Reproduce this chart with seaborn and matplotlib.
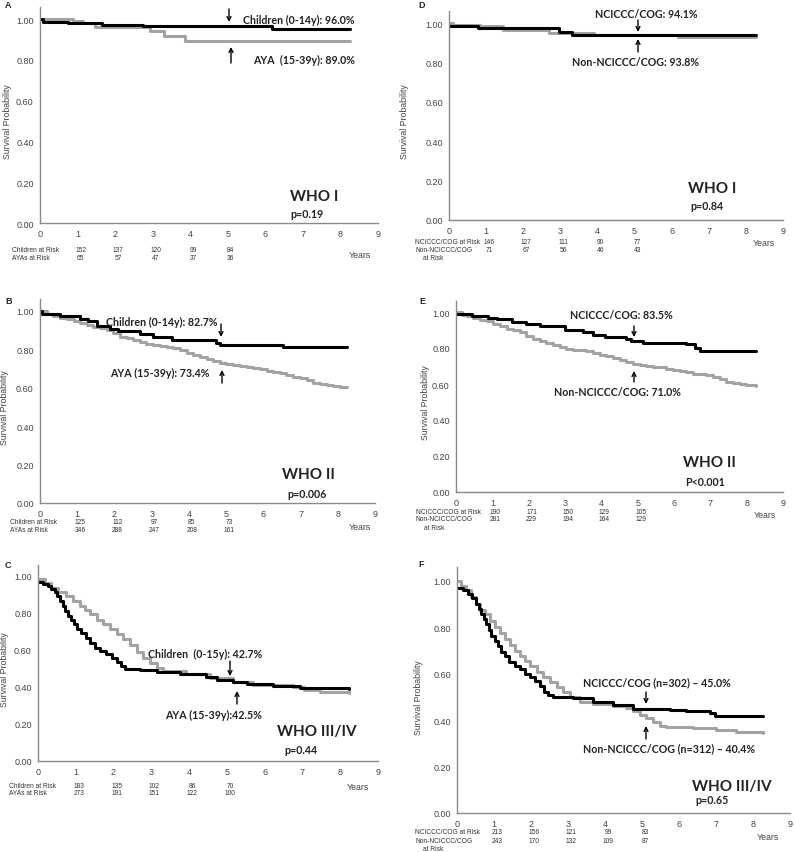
import numpy as np
import pandas as pd
import seaborn as sns
import matplotlib.pyplot as plt
import matplotlib.transforms as mtrans
from matplotlib.patches import FancyArrowPatch

W, H = 794, 853

## survival curves (years, survival probability)
# A: WHO I, children vs AYA
a_black_t = [0, 0.09, 0.75, 1.64, 2.75, 6.17, 8.26]
a_black_s = [1.0, 0.987, 0.979, 0.972, 0.964, 0.95, 0.95]
a_gray_t = [0, 0.89, 1.15, 1.47, 2.93, 3.29, 3.86, 8.26]
a_gray_s = [1.0, 0.99, 0.98, 0.96, 0.94, 0.915, 0.893, 0.893]
# B: WHO II, children vs AYA
b_black_t = [0, 0.05, 0.54, 1.07, 1.3, 1.52, 1.88, 2.1, 2.69, 3.04, 3.54, 4.74, 4.83, 6.53, 8.24]
b_black_s = [1.0, 0.982, 0.972, 0.96, 0.95, 0.924, 0.906, 0.894, 0.88, 0.862, 0.85, 0.835, 0.823, 0.81, 0.81]
b_gray_t = [0, 0.18, 0.36, 0.54, 0.72, 0.9, 1.07, 1.25, 1.43, 1.61, 1.79, 1.97, 2.15, 2.33, 2.51, 2.69,
            2.86, 3.04, 3.22, 3.4, 3.58, 3.76, 3.94, 4.12, 4.3, 4.48, 4.66, 4.83, 5.01, 5.19, 5.37, 5.55,
            5.73, 5.91, 6.09, 6.27, 6.45, 6.62, 6.8, 6.98, 7.16, 7.34, 7.52, 7.7, 7.88, 8.06, 8.24]
b_gray_s = [1.0, 0.982, 0.972, 0.963, 0.956, 0.947, 0.936, 0.927, 0.919, 0.91, 0.9, 0.883, 0.867, 0.857,
            0.848, 0.839, 0.83, 0.823, 0.818, 0.812, 0.805, 0.795, 0.782, 0.77, 0.761, 0.752, 0.742, 0.729,
            0.722, 0.717, 0.715, 0.708, 0.703, 0.697, 0.69, 0.683, 0.676, 0.667, 0.658, 0.65, 0.64, 0.623,
            0.618, 0.614, 0.609, 0.605, 0.605]
# C: WHO III/IV, children vs AYA
c_black_t = [0, 0.13, 0.27, 0.35, 0.44, 0.5, 0.57, 0.65, 0.71, 0.8, 0.87, 0.95, 1.03, 1.15, 1.26, 1.37,
             1.5, 1.64, 1.81, 1.95, 2.08, 2.21, 2.3, 2.7, 3.14, 3.76, 4.45, 4.73, 5.17, 5.53, 6.23, 6.94, 8.22]
c_black_s = [0.97, 0.958, 0.945, 0.93, 0.913, 0.89, 0.867, 0.84, 0.813, 0.785, 0.764, 0.74, 0.713, 0.69,
             0.667, 0.64, 0.613, 0.595, 0.576, 0.558, 0.535, 0.516, 0.5, 0.49, 0.48, 0.47, 0.455, 0.44,
             0.425, 0.415, 0.405, 0.395, 0.39]
c_gray_t = [0, 0.18, 0.35, 0.53, 0.75, 0.93, 1.1, 1.24, 1.37, 1.55, 1.72, 1.9, 2.08, 2.25, 2.43, 2.61,
            2.79, 2.96, 3.14, 3.32, 3.93, 4.55, 5.17, 5.7, 6.76, 7.03, 7.47, 8.22]
c_gray_s = [0.985, 0.964, 0.935, 0.913, 0.89, 0.867, 0.84, 0.818, 0.795, 0.764, 0.738, 0.713, 0.685, 0.658,
            0.625, 0.589, 0.558, 0.53, 0.504, 0.485, 0.47, 0.45, 0.425, 0.41, 0.4, 0.385, 0.375, 0.37]
# D: WHO I, NCICCC/COG vs non
d_black_t = [0, 0.78, 2.96, 3.32, 8.27]
d_black_s = [0.986, 0.973, 0.956, 0.939, 0.939]
d_gray_t = [0, 0.1, 0.83, 1.46, 2.7, 3.92, 6.17, 8.27]
d_gray_s = [1.0, 0.99, 0.983, 0.964, 0.95, 0.939, 0.927, 0.927]
# E: WHO II, NCICCC/COG vs non
e_black_t = [0, 0.43, 0.89, 1.12, 1.53, 1.94, 2.31, 3.0, 3.5, 3.78, 4.1, 4.69, 4.83, 5.15, 6.34, 6.57, 6.71, 8.25]
e_black_s = [0.99, 0.978, 0.966, 0.959, 0.944, 0.933, 0.925, 0.9, 0.89, 0.87, 0.86, 0.85, 0.837, 0.83, 0.82,
             0.80, 0.785, 0.785]
e_gray_t = [0, 0.16, 0.29, 0.48, 0.66, 0.84, 1.03, 1.21, 1.39, 1.58, 1.76, 1.94, 2.13, 2.31, 2.49, 2.68,
            2.86, 3.04, 3.23, 3.41, 3.59, 3.78, 3.96, 4.14, 4.33, 4.51, 4.69, 4.88, 5.06, 5.24, 5.43, 5.61,
            5.79, 5.98, 6.16, 6.34, 6.53, 6.71, 6.89, 7.08, 7.26, 7.44, 7.63, 7.81, 7.99, 8.25]
e_gray_s = [1.0, 0.985, 0.976, 0.966, 0.957, 0.948, 0.935, 0.92, 0.907, 0.9, 0.888, 0.869, 0.85, 0.837,
            0.828, 0.817, 0.804, 0.794, 0.79, 0.789, 0.781, 0.772, 0.763, 0.753, 0.742, 0.735, 0.725, 0.71,
            0.705, 0.701, 0.697, 0.692, 0.686, 0.679, 0.673, 0.664, 0.658, 0.654, 0.649, 0.641, 0.626,
            0.611, 0.604, 0.602, 0.593, 0.589]
# F: WHO III/IV, NCICCC/COG vs non
f_black_t = [0, 0.16, 0.3, 0.41, 0.5, 0.6, 0.66, 0.72, 0.79, 0.87, 0.93, 1.02, 1.11, 1.2, 1.29, 1.41, 1.56,
             1.7, 1.83, 1.97, 2.1, 2.24, 2.34, 2.46, 2.6, 3.14, 3.68, 4.22, 4.76, 5.75, 6.2, 6.84, 6.97, 8.28]
f_black_s = [0.97, 0.96, 0.945, 0.925, 0.9, 0.88, 0.857, 0.835, 0.813, 0.788, 0.765, 0.74, 0.72, 0.696,
             0.675, 0.653, 0.634, 0.62, 0.6, 0.587, 0.57, 0.546, 0.52, 0.51, 0.502, 0.495, 0.48, 0.465,
             0.45, 0.445, 0.44, 0.43, 0.42, 0.42]
f_gray_t = [0, 0.12, 0.25, 0.39, 0.5, 0.61, 0.75, 0.88, 1.02, 1.15, 1.29, 1.42, 1.56, 1.7, 1.83, 1.97,
            2.15, 2.33, 2.51, 2.69, 2.87, 3.05, 3.32, 3.68, 4.22, 4.58, 4.76, 4.94, 5.12, 5.3, 5.48, 5.66,
            6.38, 7.01, 7.55, 8.28]
f_gray_s = [1.0, 0.98, 0.96, 0.93, 0.9, 0.876, 0.857, 0.828, 0.8, 0.774, 0.752, 0.726, 0.7, 0.677, 0.655,
            0.634, 0.609, 0.587, 0.566, 0.543, 0.521, 0.5, 0.478, 0.47, 0.463, 0.452, 0.438, 0.424, 0.41,
            0.393, 0.374, 0.37, 0.365, 0.358, 0.35, 0.345]

## numbers at risk
risk_years = [1, 2, 3, 4, 5]
a_risk = [[152, 137, 120, 99, 84], [65, 57, 47, 37, 36]]
b_risk = [[125, 112, 97, 85, 73], [346, 288, 247, 208, 161]]
c_risk = [[183, 135, 102, 86, 70], [273, 191, 151, 122, 100]]
d_risk = [[146, 127, 111, 90, 77], [71, 67, 56, 46, 43]]
e_risk = [[190, 171, 150, 129, 105], [281, 229, 194, 164, 129]]
f_risk = [[213, 156, 121, 99, 83], [243, 170, 132, 109, 87]]

x_ticks = list(range(10))
y_ticks = [0.0, 0.2, 0.4, 0.6, 0.8, 1.0]

GRAY = '#a3a3a3'
AXC = '#8a8a8a'
TXT = '#444444'
BOLD = 'Lato'

sns.set_style("white")
plt.rcParams['font.family'] = ['Liberation Sans', 'DejaVu Sans']

fig = plt.figure(figsize=(W / 100, H / 100), dpi=100)


def make_ax(x0, x9, y0, y1):
    # x0/x9 pixel of year 0/9, y0/y1 pixel of 0.00/1.00
    per = (y0 - y1)
    top = y0 - per * 1.06
    return fig.add_axes([x0 / W, 1 - y0 / H, (x9 - x0) / W, (y0 - top) / H])


def panel(ax, black_t, black_s, gray_t, gray_s):
    df = pd.concat([
        pd.DataFrame({'t': gray_t, 's': gray_s, 'g': 'gray'}),
        pd.DataFrame({'t': black_t, 's': black_s, 'g': 'black'}),
    ])
    sns.lineplot(data=df, x='t', y='s', hue='g', palette={'gray': GRAY, 'black': 'black'},
                 estimator=None, sort=False, drawstyle='steps-post', linewidth=2.2,
                 legend=False, ax=ax)
    ax.set_xlim(0, 9)
    ax.set_ylim(0, 1.06)
    ax.set_xticks(x_ticks)
    ax.set_yticks(y_ticks)
    ax.set_yticklabels(['%.2f' % v for v in y_ticks])
    ax.set_xlabel('')
    ax.set_ylabel('')
    sns.despine(ax=ax)
    for s in ['left', 'bottom']:
        ax.spines[s].set_color(AXC)
        ax.spines[s].set_linewidth(1.0)
    ax.tick_params(axis='both', length=3, width=0.8, color=AXC, labelcolor=TXT,
                   labelsize=6.5, pad=1.5)


def txt(x, y, s, **kw):
    fig.text(x / W, 1 - y / H, s, **kw)


def arrow(x, y_tail, y_tip):
    fig.add_artist(FancyArrowPatch(
        (x / W, 1 - y_tail / H), (x / W, 1 - y_tip / H), transform=fig.transFigure,
        arrowstyle='->', mutation_scale=7, lw=1.0, color='black', shrinkA=0, shrinkB=0))


def risk(ax, rows, y_rows, labels):
    tr = mtrans.blended_transform_factory(ax.transData, fig.transFigure)
    for r, y in zip(rows, y_rows):
        for yr, n in zip(risk_years, r):
            ax.text(yr + 0.08, 1 - y / H, str(n), transform=tr, ha='center', va='center',
                    fontsize=4.8, color='#333333', clip_on=False)
    for (lx, ly, s) in labels:
        txt(lx, ly, s, ha='left', va='center', fontsize=4.8, color='#333333')


def ann(x, y, s, ha='left', size=7.7):
    txt(x, y, s, ha=ha, va='center', fontsize=size, fontweight='bold', family=BOLD, color='#222222')


def ylab(x, ymid):
    txt(x, ymid, 'Survival Probability', rotation=90, ha='center', va='center', fontsize=6.3, color=TXT)


def years(x, y):
    txt(x, y, 'Years', ha='center', va='center', fontsize=6.3, color=TXT)


# ---------- A ----------
ax = make_ax(40, 378, 224, 20)
panel(ax, a_black_t, a_black_s, a_gray_t, a_gray_s)
txt(5, 6, 'A', fontsize=6.5, fontweight='bold', va='center')
ylab(8, 122)
ann(243, 20, 'Children (0-14y): 96.0%')
arrow(229, 10, 23)
ann(253, 60, 'AYA  (15-39y): 89.0%')
arrow(231, 64, 48)
ann(290, 197, 'WHO I', size=11)
ann(290, 215, 'p=0.19')
risk(ax, a_risk, [251, 259], [(12, 251, 'Children at Risk'), (12, 259, 'AYAs at Risk')])
years(360, 255)

# ---------- B ----------
ax = make_ax(40, 375, 504, 312)
panel(ax, b_black_t, b_black_s, b_gray_t, b_gray_s)
txt(5, 301, 'B', fontsize=6.5, fontweight='bold', va='center')
ylab(5, 408)
ann(217, 322, 'Children (0-14y): 82.7%', ha='right')
arrow(221, 325, 338)
ann(209, 373, 'AYA (15-39y): 73.4%', ha='right')
arrow(222, 384, 371)
ann(282, 475, 'WHO II', size=11)
ann(287, 495, 'p=0.006')
risk(ax, b_risk, [523, 531], [(10, 523, 'Children at Risk'), (10, 531, 'AYAs at Risk')])
years(360, 527)

# ---------- C ----------
ax = make_ax(38, 378, 762, 577)
panel(ax, c_black_t, c_black_s, c_gray_t, c_gray_s)
txt(5, 566, 'C', fontsize=6.5, fontweight='bold', va='center')
ylab(5, 670)
ann(148, 654, 'Children  (0-15y): 42.7%')
arrow(230, 662, 677)
ann(165, 715, 'AYA (15-39y):42.5%')
arrow(237, 705, 692)
ann(277, 732, 'WHO III/IV', size=11)
ann(284, 750, 'p=0.44')
risk(ax, c_risk, [786, 794], [(9, 786, 'Children at Risk'), (9, 794, 'AYAs at Risk')])
years(358, 788)

# ---------- D ----------
ax = make_ax(449, 783, 221, 24)
panel(ax, d_black_t, d_black_s, d_gray_t, d_gray_s)
txt(418, 6, 'D', fontsize=6.5, fontweight='bold', va='center')
ylab(404, 122)
ann(646, 14, 'NCICCC/COG: 94.1%', ha='center')
arrow(638, 21, 33)
ann(636, 63, 'Non-NCICCC/COG: 93.8%', ha='center')
arrow(638, 53, 40)
ann(688, 189, 'WHO I', size=11)
ann(690, 207, 'p=0.84')
risk(ax, d_risk, [243, 251], [(415, 243, 'NCICCC/COG at Risk'), (415, 251, 'Non-NCICCC/COG'),
                              (423, 259, 'at Risk')])
years(764, 244)

# ---------- E ----------
ax = make_ax(456, 783, 493, 313)
panel(ax, e_black_t, e_black_s, e_gray_t, e_gray_s)
txt(419, 301, 'E', fontsize=6.5, fontweight='bold', va='center')
ylab(425, 403)
ann(621, 316, 'NCICCC/COG: 83.5%', ha='center')
arrow(634, 327, 338)
ann(617, 393, 'Non-NCICCC/COG: 71.0%', ha='center')
arrow(634, 383, 372)
ann(683, 463, 'WHO II', size=11)
ann(685, 483, 'P<0.001')
risk(ax, e_risk, [513, 520], [(416, 513, 'NCICCC/COG at Risk'), (416, 520, 'Non-NCICCC/COG'),
                              (424, 529, 'at Risk')])
years(765, 515)

# ---------- F ----------
ax = make_ax(457, 790, 814, 582)
panel(ax, f_black_t, f_black_s, f_gray_t, f_gray_s)
txt(418, 565, 'F', fontsize=6.5, fontweight='bold', va='center')
ylab(418, 698)
ann(583, 683, 'NCICCC/COG (n=302) \u2013 45.0%')
arrow(646, 693, 705)
ann(583, 749, 'Non-NCICCC/COG (n=312) \u2013 40.4%')
arrow(646, 740, 727)
ann(692, 787, 'WHO III/IV', size=11)
ann(695, 801, 'p=0.65')
risk(ax, f_risk, [833, 842], [(415, 833, 'NCICCC/COG at Risk'), (415, 842, 'Non-NCICCC/COG'),
                              (423, 850, 'at Risk')])
years(768, 838)

plt.savefig('out.png', dpi=100)
